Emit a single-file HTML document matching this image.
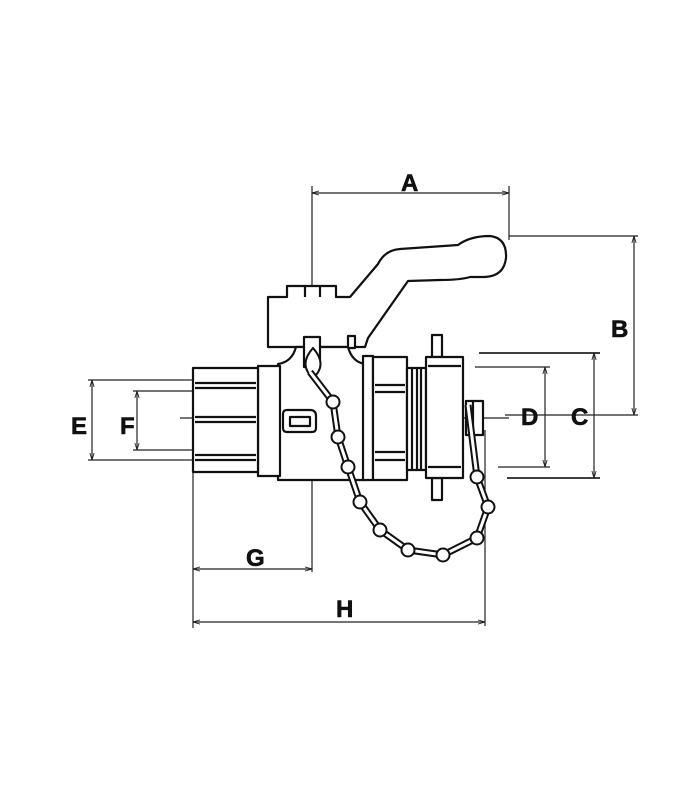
<!DOCTYPE html>
<html><head><meta charset="utf-8"><style>html,body{margin:0;padding:0;background:#fff}svg{display:block}text{font-family:"Liberation Sans",sans-serif;font-weight:bold;font-size:24px;fill:#111;stroke:#111;stroke-width:0.6}</style></head>
<body>
<svg width="700" height="800" viewBox="0 0 700 800" xmlns="http://www.w3.org/2000/svg">
<defs>
<marker id="ar" viewBox="0 0 10 10" refX="10" refY="5" markerWidth="6" markerHeight="6" orient="auto-start-reverse"><path d="M0,2 L10,5 L0,8" fill="none" stroke="#222" stroke-width="1.2"/></marker>
</defs>
<g stroke="#222" stroke-width="1.2" fill="none">
<line x1="312" y1="186" x2="312" y2="572"/>
<line x1="509" y1="186" x2="509" y2="240"/>
<line x1="509" y1="236" x2="638" y2="236"/>
<line x1="505" y1="415" x2="638" y2="415"/>
<line x1="479" y1="353" x2="600" y2="353" stroke-width="1.8"/>
<line x1="507" y1="478" x2="600" y2="478" stroke-width="1.8"/>
<line x1="475" y1="367" x2="550" y2="367"/>
<line x1="498" y1="467" x2="550" y2="467"/>
<line x1="88" y1="380" x2="195" y2="380"/>
<line x1="88" y1="460" x2="195" y2="460"/>
<line x1="133" y1="391" x2="195" y2="391"/>
<line x1="133" y1="450" x2="195" y2="450"/>
<line x1="180" y1="418" x2="509" y2="418"/>
<line x1="193" y1="470" x2="193" y2="628"/>
<line x1="485" y1="430" x2="485" y2="626"/>
<line x1="312" y1="193" x2="509" y2="193" marker-start="url(#ar)" marker-end="url(#ar)"/>
<line x1="634" y1="236" x2="634" y2="415" marker-start="url(#ar)" marker-end="url(#ar)"/>
<line x1="594" y1="353" x2="594" y2="478" marker-start="url(#ar)" marker-end="url(#ar)"/>
<line x1="545" y1="367" x2="545" y2="467" marker-start="url(#ar)" marker-end="url(#ar)"/>
<line x1="92" y1="380" x2="92" y2="460" marker-start="url(#ar)" marker-end="url(#ar)"/>
<line x1="137" y1="391" x2="137" y2="450" marker-start="url(#ar)" marker-end="url(#ar)"/>
<line x1="193" y1="569" x2="312" y2="569" marker-start="url(#ar)" marker-end="url(#ar)"/>
<line x1="193" y1="622" x2="485" y2="622" marker-start="url(#ar)" marker-end="url(#ar)"/>
</g>
<g stroke="#111" stroke-width="2.2" fill="#fff" stroke-linejoin="round">
<path d="M268,297 L287,297 L287,286 L336,286 L336,297 L350,297 L378,264 Q385,250 400,249 L458,245 Q470,236 490,236 Q507,238 506,258 Q504,276 485,277 L470,277 Q460,280 440,280 L408,281 L368,338 L365,347 L268,347 Z"/>
<line x1="305" y1="286" x2="305" y2="297"/><line x1="320" y1="286" x2="320" y2="297"/>
<rect x="348" y="336" width="7" height="12"/>
<path d="M278,364 Q292,362 296,347 L348,347 Q352,362 365,364 L365,480 L278,480 Z"/>
<rect x="304" y="337" width="16" height="30"/>
<rect x="258" y="366" width="22" height="110"/>
<rect x="193" y="368" width="65" height="104"/>
<line x1="195" y1="383" x2="256" y2="383"/><line x1="195" y1="388" x2="256" y2="388"/>
<line x1="195" y1="417" x2="256" y2="417"/><line x1="195" y1="422" x2="256" y2="422"/>
<line x1="195" y1="455" x2="256" y2="455"/><line x1="195" y1="460" x2="256" y2="460"/>
<path d="M287,410 L310,410 Q316,410 316,416 L316,428 Q316,432 312,432 L287,432 Q283,432 283,428 L283,414 Q283,410 287,410 Z"/>
<rect x="290" y="417" width="20" height="9"/>
<rect x="363" y="356" width="10" height="124"/>
<rect x="373" y="357" width="34" height="123"/>
<line x1="375" y1="385" x2="405" y2="385"/><line x1="375" y1="392" x2="405" y2="392"/>
<line x1="375" y1="452" x2="405" y2="452"/><line x1="375" y1="460" x2="405" y2="460"/>
<rect x="407" y="368" width="19" height="102"/>
<line x1="412" y1="368" x2="412" y2="470"/><line x1="417" y1="368" x2="417" y2="470"/><line x1="421" y1="368" x2="421" y2="470"/>
<rect x="432" y="335" width="10" height="22"/>
<rect x="432" y="478" width="10" height="22"/>
<rect x="426" y="357" width="37" height="121"/>
<line x1="428" y1="366" x2="461" y2="366"/><line x1="428" y1="467" x2="461" y2="467"/>
<rect x="466" y="401" width="17" height="34"/>
<line x1="473" y1="401" x2="473" y2="435"/>
</g>
<g stroke="#111" stroke-width="2" fill="#fff">
<path d="M313,348 Q298,365 313,378 Q328,365 313,348 Z" />
<path d="M310,372 L333,402 L338,437 L348,467 L360,502 L380,530 L408,550 L443,555 L477,538 L488,507 L477,477 L468,405" fill="none" stroke-width="7"/>
<path d="M310,372 L333,402 L338,437 L348,467 L360,502 L380,530 L408,550 L443,555 L477,538 L488,507 L477,477 L468,405" fill="none" stroke="#fff" stroke-width="3"/>
<circle cx="333" cy="402" r="6.5"/><circle cx="338" cy="437" r="6.5"/><circle cx="348" cy="467" r="6.5"/><circle cx="360" cy="502" r="6.5"/><circle cx="380" cy="530" r="6.5"/><circle cx="408" cy="550" r="6.5"/><circle cx="443" cy="555" r="6.5"/><circle cx="477" cy="538" r="6.5"/><circle cx="488" cy="507" r="6.5"/><circle cx="477" cy="477" r="6.5"/>
</g>
<text x="401" y="191">A</text>
<text x="611" y="337">B</text>
<text x="571" y="425">C</text>
<text x="521" y="425">D</text>
<text x="71" y="434">E</text>
<text x="120" y="434">F</text>
<text x="246" y="566">G</text>
<text x="336" y="617">H</text>
</svg>
</body></html>
